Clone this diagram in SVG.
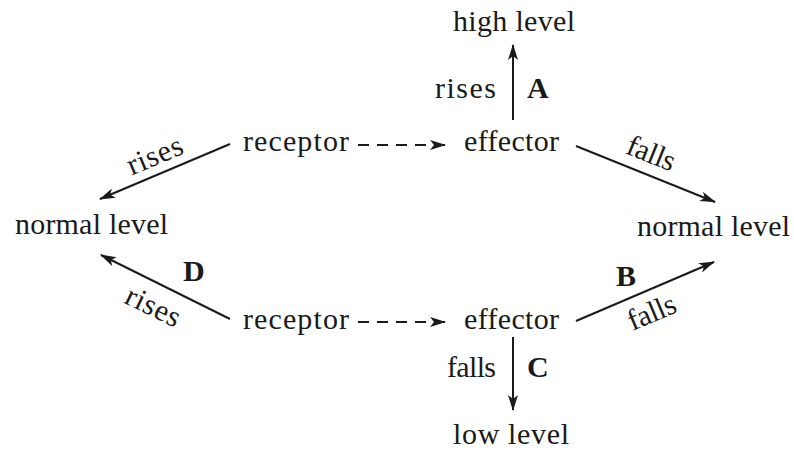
<svg xmlns="http://www.w3.org/2000/svg" width="794" height="450" viewBox="0 0 794 450">
<style>
text{font-family:"Liberation Serif","Times New Roman",serif;font-size:30px;fill:#1a1a1a}
.b{font-weight:bold}
.ln{stroke:#1a1a1a;stroke-width:2;fill:none}
.d{stroke-dasharray:11 8}
</style>
<defs>
<marker id="ah" viewBox="0 0 16 10" refX="15" refY="5" markerWidth="17" markerHeight="10" markerUnits="userSpaceOnUse" orient="auto">
<path d="M0,0 L16,5 L0,10 L4,5 Z" fill="#1a1a1a"/>
</marker>
</defs>
<rect width="794" height="450" fill="#fff"/>
<g id="high"><text x="453" y="31" textLength="122">high level</text></g>
<g id="receptor1"><text x="243" y="151" textLength="106">receptor</text></g>
<g id="effector1"><text x="464" y="151" textLength="95">effector</text></g>
<g id="normalL"><text x="15" y="234" textLength="153">normal level</text></g>
<g id="normalR"><text x="637" y="236" textLength="153">normal level</text></g>
<g id="receptor2"><text x="243" y="329" textLength="106">receptor</text></g>
<g id="effector2"><text x="464" y="329" textLength="95">effector</text></g>
<g id="low"><text x="453" y="444" textLength="116">low level</text></g>
<g id="connectors">
<line class="ln d" x1="358" y1="145" x2="445" y2="145" marker-end="url(#ah)"/>
<line class="ln d" x1="358" y1="322" x2="445" y2="322" marker-end="url(#ah)"/>
<line class="ln" x1="513" y1="120" x2="513" y2="45" marker-end="url(#ah)"/>
<line class="ln" x1="513" y1="337" x2="513" y2="410" marker-end="url(#ah)"/>
<line class="ln" x1="230" y1="144" x2="100" y2="199" marker-end="url(#ah)"/>
<line class="ln" x1="230" y1="319" x2="101" y2="255" marker-end="url(#ah)"/>
<line class="ln" x1="576" y1="146" x2="715" y2="202" marker-end="url(#ah)"/>
<line class="ln" x1="576" y1="321" x2="714" y2="262" marker-end="url(#ah)"/>
<text x="435" y="98" textLength="61">rises</text>
<text class="b" x="527" y="98">A</text>
<text x="447" y="377" textLength="49">falls</text>
<text class="b" x="527" y="377">C</text>
<text class="b" x="616" y="286">B</text>
<text class="b" x="183" y="281">D</text>
<text transform="translate(155,156) rotate(-23)" x="-29" y="9" textLength="58">rises</text>
<text transform="translate(153,307) rotate(26)" x="-29" y="9" textLength="58">rises</text>
<text transform="translate(651,154) rotate(22)" x="-25" y="9" textLength="50">falls</text>
<text transform="translate(652,313) rotate(-23)" x="-25" y="9" textLength="50">falls</text>
</g>
</svg>
